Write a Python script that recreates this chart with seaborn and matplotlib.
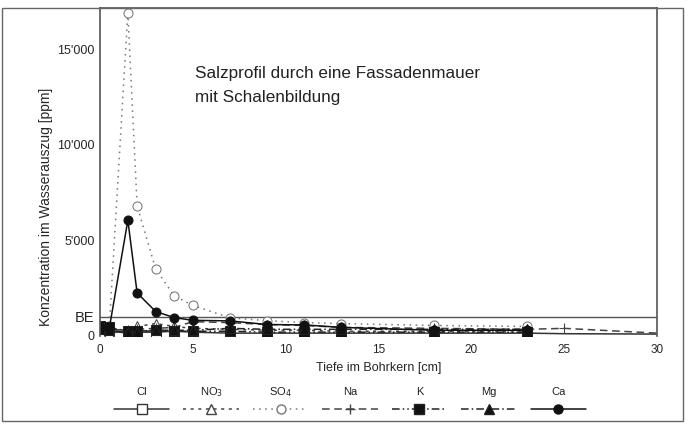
import numpy as np
import pandas as pd
import matplotlib
matplotlib.use("Agg")
import matplotlib.pyplot as plt
from matplotlib.ticker import MultipleLocator
from matplotlib.patches import Rectangle
import seaborn as sns

#%% DATA (ppm)
depth = [0, 0.5, 1.5, 2, 3, 4, 5, 7, 9, 11, 13, 18, 23]
depth_ext = depth + [25, 30]

cl = [300, 250, 150, 200, 200, 250, 200, 150, 150, 150, 150, 150, 150, 120, 100]
no3 = [200, 150, 250, 500, 650, 500, 400, 350, 300, 300, 250, 250, 200]
so4 = [350, 500, 16900, 6800, 3500, 2100, 1600, 950, 800, 700, 650, 550, 500]
na = [400, 350, 300, 350, 400, 450, 750, 700, 600, 550, 450, 400, 350, 400, 150]
k = [500, 450, 250, 250, 300, 250, 250, 250, 200, 200, 200, 200, 200]
mg = [350, 300, 200, 200, 300, 300, 300, 400, 350, 350, 350, 350, 350]
ca = [450, 400, 6050, 2250, 1280, 960, 820, 790, 600, 580, 450, 300, 300]

be_limit = 1000

series = [
    ("Cl", depth_ext, cl, dict(color="#333333", linestyle="-", marker="s", mfc="white"), 13),
    ("NO$_3$", depth, no3, dict(color="#444444", linestyle=(0, (2, 3)), marker="^", mfc="white"), None),
    ("SO$_4$", depth, so4, dict(color="#777777", linestyle=(0, (1, 3)), marker="o", mfc="white"), None),
    ("Na", depth_ext, na, dict(color="#444444", linestyle=(0, (5, 3)), marker="+"), 14),
    ("K", depth, k, dict(color="#222222", linestyle=(0, (5, 2, 1, 2, 1, 2)), marker="s", mfc="#111111"), None),
    ("Mg", depth, mg, dict(color="#222222", linestyle=(0, (5, 2, 1, 2)), marker="^", mfc="#111111"), None),
    ("Ca", depth, ca, dict(color="#111111", linestyle="-", marker="o", mfc="#111111"), None),
]

#%% FIGURE
sns.set_style("white")
plt.rcParams["font.family"] = ["Liberation Sans", "DejaVu Sans"]

fig = plt.figure(figsize=(6.88, 4.29), dpi=100)
ax = fig.add_axes([100 / 688, 1 - 336 / 429, 557 / 688, 328 / 429])

for name, xs, ys, style, n_marked in series:
    df = pd.DataFrame({"x": xs, "y": ys})
    every = list(range(n_marked)) if n_marked else None
    sns.lineplot(data=df, x="x", y="y", ax=ax, linewidth=1.1, markersize=6.5,
                 mec=style["color"], sort=False, markevery=every, **style)

ax.axhline(be_limit, color="#555555", linewidth=1.0, zorder=0)

ax.set_xlim(0, 30)
ax.set_ylim(0, 17150)
ax.set_xticks([0, 5, 10, 15, 20, 25, 30])
ax.set_yticks([0, be_limit, 5000, 10000, 15000])
ax.set_yticklabels(["0", "BE", "5'000", "10'000", "15'000"])
ax.yaxis.set_minor_locator(MultipleLocator(2500))
ax.tick_params(axis="y", which="both", direction="in", length=5, color="#555555",
               labelsize=9, pad=4)
ax.tick_params(axis="x", length=0, labelsize=8.5, pad=6)
for lab in ax.get_yticklabels():
    if lab.get_text() == "BE":
        lab.set_fontsize(10.5)

ax.set_xlabel("Tiefe im Bohrkern [cm]", fontsize=9, labelpad=4)
ax.set_ylabel("Konzentration im Wasserauszug [ppm]", fontsize=10)
ax.yaxis.set_label_coords(-0.085, 0.395)

for side in ["left", "right", "top"]:
    ax.spines[side].set_color("#555555")
    ax.spines[side].set_linewidth(1.2)
ax.spines["bottom"].set_visible(False)

ax.text(0.171, 0.763, "Salzprofil durch eine Fassadenmauer\nmit Schalenbildung",
        transform=ax.transAxes, fontsize=12.3, color="#222222",
        va="center", ha="left", linespacing=1.75)

# outer frame of the scanned figure
fig.patches.append(Rectangle((2 / 688, 8 / 429), 681 / 688, 413 / 429,
                             transform=fig.transFigure, fill=False,
                             edgecolor="#666666", linewidth=1.0))

#%% LEGEND (labels above line samples)
lax = fig.add_axes([100 / 688, 1 - 422 / 429, 500 / 688, 40 / 429])
lax.set_xlim(-0.6, 6.6)
lax.set_ylim(-1, 1)
lax.axis("off")
for i, (name, xs, ys, style, n_marked) in enumerate(series):
    lax.plot([i - 0.4, i, i + 0.4], [-0.35, -0.35, -0.35], markevery=[1],
             linewidth=1.1, markersize=6.5, mec=style["color"], **style)
    lax.text(i, 0.5, name, ha="center", va="center", fontsize=8, color="#222222")

fig.savefig("out.png", dpi=100)
